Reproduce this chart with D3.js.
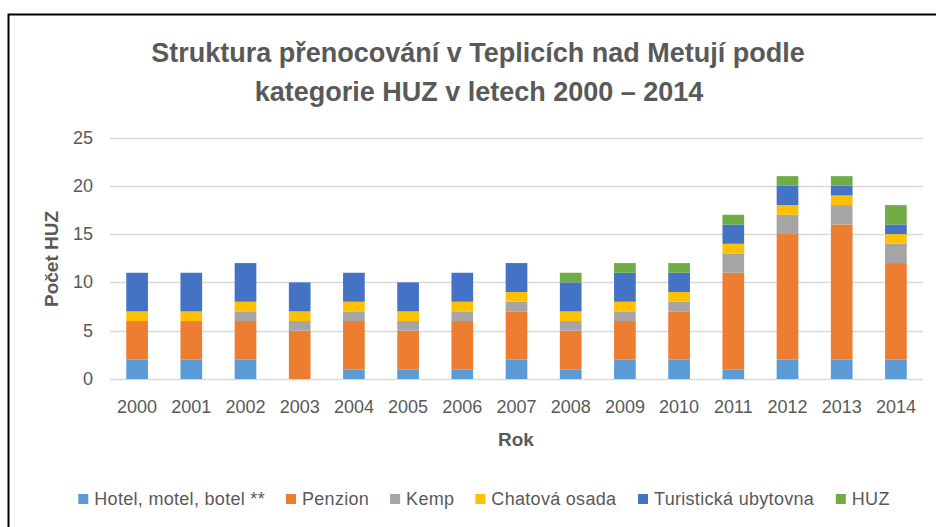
<!DOCTYPE html>
<html>
<head>
<meta charset="utf-8">
<script src="https://cdn.jsdelivr.net/npm/d3@7"></script>
<style>
  body { margin: 0; background: #fff; }
  svg { display: block; }
</style>
</head>
<body>
<div id="chart"></div>
<script>
  // data
  var years = ["2000","2001","2002","2003","2004","2005","2006","2007","2008","2009","2010","2011","2012","2013","2014"];
  var hotel      = [2,2,2,0,1,1,1,2,1,2,2,1,2,2,2];
  var penzion    = [4,4,4,5,5,4,5,5,4,4,5,10,13,14,10];
  var kemp       = [0,0,1,1,1,1,1,1,1,1,1,2,2,2,2];
  var chatova    = [1,1,1,1,1,1,1,1,1,1,1,1,1,1,1];
  var turisticka = [4,4,4,3,3,3,3,3,3,3,2,2,2,1,1];
  var huz        = [0,0,0,0,0,0,0,0,1,1,1,1,1,1,2];
  var seriesNames = ["Hotel, motel, botel **","Penzion","Kemp","Chatová osada","Turistická ubytovna","HUZ"];
  var seriesColors = ["#5B9BD5","#ED7D31","#A5A5A5","#FFC000","#4472C4","#70AD47"];
  var yTicks = [0,5,10,15,20,25];

  var W = 936, H = 527;
  var font = "'Liberation Sans', Arial, sans-serif";
  var textColor = "#595959";

  var svg = d3.select("#chart").append("svg")
    .attr("width", W).attr("height", H);

  // frame of the chart object
  svg.append("rect")
    .attr("x", 8.5).attr("y", 14.5)
    .attr("width", W + 20).attr("height", H + 20)
    .attr("fill", "none").attr("stroke", "#000").attr("stroke-width", 2);

  var rows = years.map(function(y, i){
    return { year: y, s0: hotel[i], s1: penzion[i], s2: kemp[i], s3: chatova[i], s4: turisticka[i], s5: huz[i] };
  });
  var keys = ["s0","s1","s2","s3","s4","s5"];
  var stacked = d3.stack().keys(keys)(rows);

  var x = d3.scaleBand().domain(years).range([110, 923]).paddingInner(0.6).paddingOuter(0.3);
  var y = d3.scaleLinear().domain([0, 25]).range([379, 137.5]);

  // gridlines
  svg.append("g").selectAll("line")
    .data(yTicks).enter().append("line")
    .attr("x1", 110).attr("x2", 923)
    .attr("y1", function(d){ return Math.round(y(d)) + 0.5; })
    .attr("y2", function(d){ return Math.round(y(d)) + 0.5; })
    .attr("stroke", "#D9D9D9").attr("stroke-width", 1.3);

  // y tick labels
  svg.append("g").selectAll("text")
    .data(yTicks).enter().append("text")
    .attr("x", 93).attr("y", function(d){ return y(d) + 6; })
    .attr("text-anchor", "end")
    .attr("font-family", font).attr("font-size", 18).attr("fill", textColor)
    .text(function(d){ return d; });

  // bars
  svg.append("g").selectAll("g")
    .data(stacked).enter().append("g")
    .attr("fill", function(d, i){ return seriesColors[i]; })
    .selectAll("rect")
    .data(function(d){ return d; }).enter().append("rect")
    .attr("x", function(d){ return x(d.data.year); })
    .attr("width", x.bandwidth())
    .attr("y", function(d){ return y(d[1]); })
    .attr("height", function(d){ return y(d[0]) - y(d[1]); });

  // x tick labels
  svg.append("g").selectAll("text")
    .data(years).enter().append("text")
    .attr("x", function(d){ return x(d) + x.bandwidth() / 2; })
    .attr("y", 413)
    .attr("text-anchor", "middle")
    .attr("font-family", font).attr("font-size", 18).attr("fill", textColor)
    .text(function(d){ return d; });

  // title
  var title = svg.append("text")
    .attr("text-anchor", "middle")
    .attr("font-family", font).attr("font-weight", "bold")
    .attr("font-size", 27).attr("fill", textColor);
  title.append("tspan").attr("x", 478).attr("y", 62)
    .text("Struktura přenocování v Teplicích nad Metují podle");
  title.append("tspan").attr("x", 479).attr("y", 101)
    .text("kategorie HUZ v letech 2000 – 2014");

  // axis titles
  svg.append("text")
    .attr("transform", "translate(58,259) rotate(-90)")
    .attr("text-anchor", "middle")
    .attr("font-family", font).attr("font-weight", "bold")
    .attr("font-size", 19).attr("fill", textColor)
    .text("Počet HUZ");

  svg.append("text")
    .attr("x", 516).attr("y", 446)
    .attr("text-anchor", "middle")
    .attr("font-family", font).attr("font-weight", "bold")
    .attr("font-size", 19).attr("fill", textColor)
    .text("Rok");

  // legend
  var legend = svg.append("g");
  var items = legend.selectAll("g")
    .data(seriesNames).enter().append("g");
  items.append("rect")
    .attr("width", 10).attr("height", 10)
    .attr("y", -11)
    .attr("fill", function(d, i){ return seriesColors[i]; });
  items.append("text")
    .attr("x", 16).attr("y", 0)
    .attr("font-family", font).attr("font-size", 18)
    .attr("letter-spacing", 0.3).attr("fill", textColor)
    .text(function(d){ return d; });

  var gap = 21;
  var pos = 0, offsets = [];
  items.each(function(){
    offsets.push(pos);
    pos += this.getBBox().width + gap;
  });
  var total = pos - gap;
  var start = 484 - total / 2;
  items.attr("transform", function(d, i){ return "translate(" + (start + offsets[i]) + ",505)"; });
</script>
</body>
</html>
